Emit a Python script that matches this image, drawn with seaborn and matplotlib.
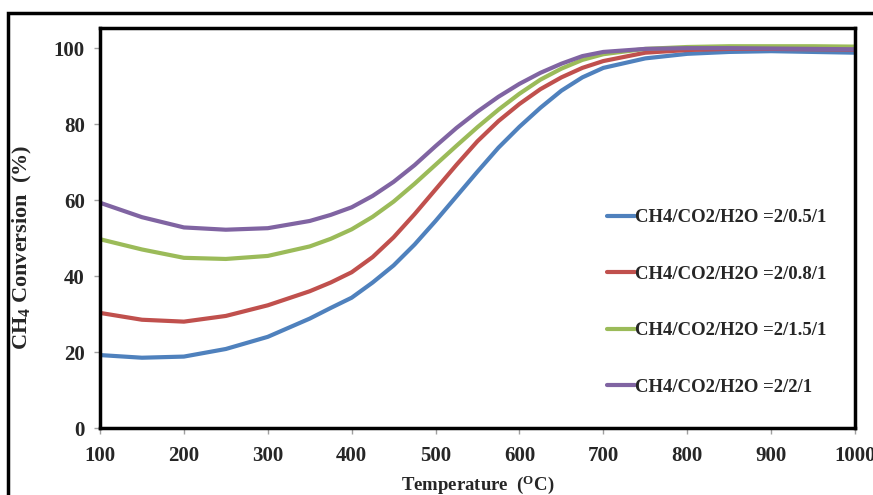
import numpy as np
import pandas as pd
import seaborn as sns
import matplotlib
matplotlib.use("Agg")
import matplotlib.pyplot as plt
from matplotlib.patches import Rectangle

temperature = [100, 150, 200, 250, 300, 350, 375, 400, 425, 450, 475, 500, 525,
               550, 575, 600, 625, 650, 675, 700, 750, 800, 850, 900, 950, 1000]
conv_05 = [19.2, 18.5, 18.8, 20.8, 24.0, 28.8, 31.6, 34.3, 38.3, 42.8, 48.3, 54.5, 61.0,
           67.5, 73.8, 79.3, 84.3, 88.8, 92.3, 94.8, 97.3, 98.5, 99.0, 99.2, 99.0, 98.8]
conv_08 = [30.3, 28.5, 28.0, 29.5, 32.3, 36.0, 38.3, 41.0, 45.0, 50.2, 56.3, 62.8, 69.3,
           75.5, 80.8, 85.3, 89.2, 92.3, 94.8, 96.6, 98.8, 99.5, 99.8, 99.8, 99.7, 99.6]
conv_15 = [49.7, 47.0, 44.8, 44.5, 45.3, 47.8, 49.8, 52.3, 55.6, 59.6, 64.3, 69.3, 74.3,
           79.2, 83.8, 88.0, 91.7, 94.6, 96.9, 98.4, 99.8, 100.3, 100.5, 100.5, 100.5, 100.4]
conv_2 = [59.3, 55.5, 52.8, 52.2, 52.6, 54.5, 56.1, 58.1, 61.1, 64.8, 69.2, 74.2, 79.0,
          83.3, 87.2, 90.6, 93.5, 95.9, 97.9, 99.0, 99.8, 100.0, 100.0, 99.9, 99.8, 99.7]
labels = ["CH4/CO2/H2O =2/0.5/1", "CH4/CO2/H2O =2/0.8/1",
          "CH4/CO2/H2O =2/1.5/1", "CH4/CO2/H2O =2/2/1"]
colors = ["#4F81BD", "#C0504D", "#9BBB59", "#8064A2"]
x_ticks = [100, 200, 300, 400, 500, 600, 700, 800, 900, 1000]
y_ticks = [0, 20, 40, 60, 80, 100]

series = [conv_05, conv_08, conv_15, conv_2]
df = pd.concat([pd.DataFrame({"T": temperature, "conv": s, "ratio": lab})
                for s, lab in zip(series, labels)], ignore_index=True)

sns.set_theme(style="white")
plt.rcParams["font.family"] = ["Liberation Serif", "DejaVu Serif"]
plt.rcParams["font.weight"] = "bold"
plt.rcParams["mathtext.fontset"] = "custom"
plt.rcParams["mathtext.rm"] = "Liberation Serif:bold"
plt.rcParams["mathtext.bf"] = "Liberation Serif:bold"
plt.rcParams["mathtext.it"] = "Liberation Serif:bold"

fig = plt.figure(figsize=(8.73, 4.95), dpi=100)
ax = fig.add_axes([100/873, 1-428/495, 755/873, 400/495])

sns.lineplot(data=df, x="T", y="conv", hue="ratio", hue_order=labels,
             palette=colors, linewidth=3.0, ax=ax, legend=True)

ax.set_xlim(100, 1000)
ax.set_ylim(0, 105.3)
ax.set_xticks(x_ticks)
ax.set_yticks(y_ticks)
ax.set_xticklabels([str(t) for t in x_ticks], fontsize=15, fontweight="bold")
ax.set_yticklabels([str(t) for t in y_ticks], fontsize=15, fontweight="bold")
ax.tick_params(axis="both", direction="out", length=4, width=1, color="#A0A0A0",
               pad=7, bottom=True, left=True)
ax.tick_params(axis="x", pad=9)

for sp in ax.spines.values():
    sp.set_color("black")
    sp.set_linewidth(2.5)

ax.set_xlabel(r"Temperature  ($\mathbf{^{O}}$C)", fontsize=13.5, fontweight="bold", labelpad=5)
ax.set_ylabel(r"CH$\mathbf{_4}$ Conversion  (%)", fontsize=16, fontweight="bold")
ax.yaxis.set_label_coords(-0.088, 1 - (247 - 28) / 400)

leg = ax.legend(loc="upper left", bbox_to_anchor=(0.671, 0.547), frameon=False,
                prop={"family": "Liberation Serif", "weight": "bold", "size": 13.5},
                handlelength=1.5, handletextpad=0.0, labelspacing=2.1,
                borderpad=0, borderaxespad=0)
for line in leg.get_lines():
    line.set_linewidth(3.0)

fig.add_artist(Rectangle((8/873, -0.2), 1.2, 1.2 - 13/495, transform=fig.transFigure,
                         fill=False, edgecolor="black", linewidth=2.5, clip_on=False))

fig.savefig("out.png", dpi=100)
